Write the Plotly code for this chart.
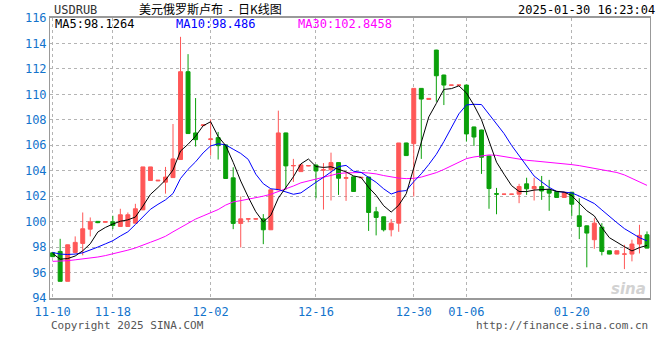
import plotly.graph_objects as go

# ---------------- data ----------------
idx = list(range(80))
open_ = [97.55, 97.66, 95.31, 97.58, 98.29, 99.41, 100.02, 99.95, 99.99, 99.62,
         99.62, 99.88, 100.93, 103.23, 103.20, 103.10, 103.46, 104.88, 111.78, 106.97,
         107.55, 106.45, 106.60, 106.03, 103.44, 99.86, 100.20, 100.20, 100.22, 99.36,
         102.50, 106.97, 104.38, 103.93, 104.38, 104.45, 104.05, 104.07, 104.64, 103.40,
         103.52, 103.44, 103.50, 100.77, 100.38, 99.36, 99.88, 106.18, 106.13, 110.47,
         109.60, 113.48, 111.52, 110.72, 110.72, 110.73, 107.44, 107.20, 105.16, 102.20,
         102.15, 102.15, 102.16, 102.97, 102.58, 102.76, 102.50, 102.37, 101.90, 102.31,
         100.46, 99.67, 98.58, 99.57, 97.71, 97.45, 97.44, 97.45, 98.24, 98.97]
high = [97.62, 98.65, 98.20, 98.84, 100.72, 100.33, 100.05, 100.05, 100.46, 101.01,
        100.72, 101.40, 104.30, 104.30, 103.26, 104.30, 107.67, 114.52, 113.16, 109.71,
        107.66, 108.04, 107.05, 106.05, 104.27, 101.98, 100.25, 100.24, 100.59, 102.50,
        108.72, 106.99, 104.93, 104.51, 104.42, 104.47, 104.60, 105.42, 104.66, 103.93,
        103.54, 103.50, 103.52, 101.16, 100.40, 100.20, 106.18, 106.20, 110.47, 110.49,
        109.70, 113.50, 111.54, 110.74, 110.74, 110.75, 107.46, 107.22, 105.18, 102.65,
        102.18, 102.18, 102.97, 103.45, 103.45, 103.59, 103.28, 102.39, 102.32, 102.33,
        101.84, 99.69, 100.27, 99.88, 97.73, 97.73, 98.18, 98.58, 99.75, 99.23]
low = [97.20, 95.31, 95.31, 97.50, 97.35, 98.84, 99.88, 99.93, 99.41, 99.60,
       99.60, 99.86, 100.90, 103.20, 103.18, 102.20, 103.44, 104.86, 106.92, 105.90,
       107.53, 105.19, 104.88, 103.39, 99.41, 97.97, 99.95, 100.18, 98.23, 99.34,
       102.48, 102.50, 103.12, 103.90, 104.36, 101.84, 100.95, 101.66, 102.10, 101.63,
       102.37, 103.42, 99.27, 98.92, 99.23, 98.84, 99.20, 105.17, 101.97, 104.93,
       109.58, 109.42, 109.16, 110.70, 110.70, 106.29, 105.94, 103.75, 101.01, 100.58,
       102.13, 102.13, 101.45, 102.10, 101.66, 101.71, 100.85, 101.88, 101.88, 100.45,
       98.63, 96.41, 97.87, 97.35, 97.43, 97.43, 96.27, 96.88, 97.50, 97.90]
close = [97.25, 95.31, 98.18, 98.37, 99.44, 99.99, 99.92, 100.00, 99.70, 100.54,
         100.54, 101.01, 104.30, 104.30, 103.25, 103.50, 104.93, 111.78, 106.92, 106.44,
         107.60, 106.50, 105.97, 103.39, 99.86, 100.22, 100.22, 100.22, 99.36, 102.50,
         106.97, 104.38, 104.41, 104.46, 104.40, 103.98, 104.07, 104.64, 103.41, 103.46,
         102.37, 103.48, 100.72, 100.33, 99.36, 99.88, 106.18, 105.19, 110.47, 109.63,
         109.68, 111.46, 110.73, 110.73, 110.73, 106.89, 106.65, 105.06, 102.60, 102.16,
         102.16, 102.16, 102.76, 102.58, 102.76, 102.41, 102.24, 101.90, 102.30, 101.37,
         99.62, 99.10, 99.88, 97.66, 97.45, 97.71, 97.46, 98.24, 98.92, 97.92]

ma5 = [97.50, 97.05, 97.10, 97.30, 97.71, 98.26, 99.18, 99.54, 99.81, 100.03,
       100.14, 100.36, 101.22, 102.14, 102.68, 103.27, 104.06, 105.55, 106.08, 106.71,
       107.53, 107.85, 106.69, 105.98, 104.66, 103.19, 101.93, 100.78, 99.98, 100.50,
       101.85, 102.69, 103.52, 104.54, 104.92, 104.33, 104.26, 104.31, 104.10, 103.91,
       103.59, 103.47, 102.69, 102.07, 101.25, 100.75, 101.29, 102.19, 104.22, 106.27,
       108.23, 109.29, 110.39, 110.45, 110.67, 110.11, 109.15, 108.01, 106.39, 104.67,
       103.73, 102.83, 102.37, 102.36, 102.48, 102.53, 102.55, 102.38, 102.32, 102.04,
       101.49, 100.86, 100.45, 99.53, 98.74, 98.36, 98.03, 97.70, 97.96, 98.13]
ma10 = [97.58, 97.45, 97.42, 97.45, 97.55, 97.75, 98.00, 98.25, 98.50, 98.87,
        99.20, 99.77, 100.38, 100.97, 101.36, 101.71, 102.21, 103.39, 104.11, 104.70,
        105.40, 105.95, 106.12, 106.03, 105.69, 105.36, 104.89, 103.73, 102.98, 102.58,
        102.52, 102.31, 102.15, 102.26, 102.71, 103.09, 103.48, 103.92, 104.32, 104.42,
        103.96, 103.87, 103.50, 103.09, 102.58, 102.17, 102.38, 102.44, 103.14, 103.76,
        104.49, 105.29, 106.29, 107.33, 108.47, 109.17, 109.22, 109.20, 108.42, 107.67,
        106.92, 105.99, 105.19, 104.38, 103.58, 103.13, 102.69, 102.37, 102.34, 102.26,
        102.01, 101.70, 101.42, 100.92, 100.39, 99.92, 99.45, 99.08, 98.74, 98.49]
ma30 = [96.88, 96.90, 96.93, 97.00, 97.06, 97.13, 97.22, 97.33, 97.46, 97.60,
        97.76, 97.93, 98.13, 98.38, 98.60, 98.85, 99.20, 99.55, 99.90, 100.20,
        100.45, 100.70, 100.95, 101.30, 101.55, 101.65, 101.75, 101.85, 102.00, 102.15,
        102.35, 102.55, 102.80, 103.05, 103.20, 103.35, 103.50, 103.65, 103.78, 103.83,
        103.86, 103.86, 103.82, 103.75, 103.62, 103.50, 103.42, 103.38, 103.40, 103.50,
        103.65, 103.85, 104.10, 104.40, 104.68, 104.95, 105.08, 105.16, 105.24, 105.21,
        105.11, 105.00, 104.90, 104.82, 104.77, 104.72, 104.66, 104.61, 104.53, 104.48,
        104.40, 104.30, 104.19, 104.10, 104.00, 103.86, 103.67, 103.41, 103.15, 102.85]

tick_pos = [0, 8, 21, 35, 48, 55, 69]
tick_text = ["11-10", "11-18", "12-02", "12-16", "12-30", "01-06", "01-20"]
y_ticks = list(range(94, 117, 2))

# ---------------- styling ----------------
RED = "#ff5757"
GREEN = "#0aa00a"
BLUE_TXT = "#1273cc"
MONO = "DejaVu Sans Mono, Liberation Mono, monospace"
GRID = "#b4b4b4"
W, H = 660, 360
ML, MR, MT, MB = 50, 10, 18, 62
PW, PH = W - ML - MR, H - MT - MB

fig = go.Figure()
fig.add_trace(go.Candlestick(
    x=idx, open=open_, high=high, low=low, close=close,
    increasing=dict(line=dict(color=RED, width=1), fillcolor=RED),
    decreasing=dict(line=dict(color=GREEN, width=1), fillcolor=GREEN),
    whiskerwidth=0, hoverinfo="skip", showlegend=False,
))
fig.add_trace(go.Scatter(x=idx, y=ma30, mode="lines",
                         line=dict(color="#ff00ff", width=1), hoverinfo="skip", showlegend=False))
fig.add_trace(go.Scatter(x=idx, y=ma10, mode="lines",
                         line=dict(color="#0000ff", width=1), hoverinfo="skip", showlegend=False))
fig.add_trace(go.Scatter(x=idx, y=ma5, mode="lines",
                         line=dict(color="#000000", width=1), hoverinfo="skip", showlegend=False))

fig.update_layout(
    width=W, height=H,
    margin=dict(l=ML, r=MR, t=MT, b=MB),
    paper_bgcolor="white", plot_bgcolor="white",
    boxgap=0.25,
    showlegend=False,
    xaxis=dict(
        range=[-0.35, 79.4], rangeslider=dict(visible=False),
        tickmode="array", tickvals=tick_pos, ticktext=tick_text,
        showgrid=True, gridcolor=GRID, griddash="dot", gridwidth=1,
        showline=True, linecolor="#999999", linewidth=2, mirror=True,
        ticks="", zeroline=False, ticklabelstandoff=2,
        tickfont=dict(family=MONO, size=12, color=BLUE_TXT),
    ),
    yaxis=dict(
        range=[94, 116], tickmode="array", tickvals=y_ticks,
        showgrid=True, gridcolor=GRID, griddash="dot", gridwidth=1,
        showline=True, linecolor="#999999", linewidth=1, mirror=True,
        ticks="", zeroline=False,
        tickfont=dict(family=MONO, size=12, color=BLUE_TXT),
    ),
)

annots = [
    dict(text="USDRUB", x=52, y=10, font=dict(family=MONO, size=12, color="#333333"), xanchor="left"),
    dict(text="美元俄罗斯卢布  -  日K线图", x=137, y=9,
         font=dict(family="Noto Sans CJK SC", size=12, color="#000000"), xanchor="left"),
    dict(text="2025-01-30 16:23:04", x=657, y=10, font=dict(family=MONO, size=12, color="#000000"), xanchor="right"),
    dict(text="MA5:98.1264", x=53, y=24, font=dict(family=MONO, size=12, color="#000000"), xanchor="left"),
    dict(text="MA10:98.486", x=174, y=24, font=dict(family=MONO, size=12, color="#0000ff"), xanchor="left"),
    dict(text="MA30:102.8458", x=296, y=24, font=dict(family=MONO, size=12, color="#ff00ff"), xanchor="left"),
    dict(text="Copyright 2025 SINA.COM", x=49, y=325, font=dict(family=MONO, size=11, color="#555555"), xanchor="left"),
    dict(text="http://finance.sina.com.cn", x=650, y=325, font=dict(family=MONO, size=11, color="#555555"), xanchor="right"),
    dict(text="<b><i>sina</i></b>", x=628, y=289, font=dict(family="DejaVu Sans", size=15, color="#d2d2d2"), xanchor="center"),
]
for a in annots:
    px, py = a.pop("x"), a.pop("y")
    fig.add_annotation(x=(px - ML) / PW, y=(H - MB - py) / PH, xref="paper", yref="paper",
                       yanchor="middle", showarrow=False, **a)

fig.write_html("out.html", config={"displayModeBar": False, "staticPlot": True},
               post_script="document.body.style.margin='0';document.body.style.overflow='hidden';")
